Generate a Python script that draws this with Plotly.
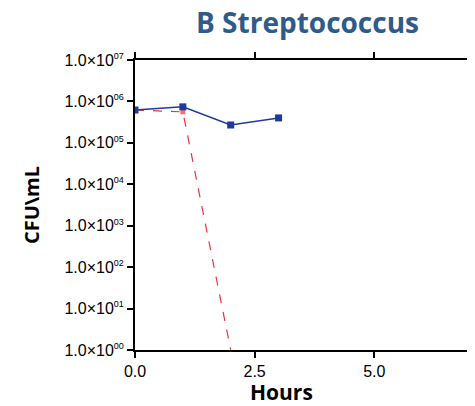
import plotly.graph_objects as go

hours = [0, 1, 2, 3]
blue_cfu = [6.2e5, 7.4e5, 2.7e5, 4.0e5]
red_hours = [0, 1, 2]
red_cfu = [6.2e5, 5.6e5, 1.0]
ytick_vals = [1e0, 1e1, 1e2, 1e3, 1e4, 1e5, 1e6, 1e7]
ytick_exponents = ["00", "01", "02", "03", "04", "05", "06", "07"]
xtick_vals = [0, 2.5, 5.0]
xtick_text = ["0.0", "2.5", "5.0"]

ytick_text = ["1.0×10<sup><span style='font-size:9px'>%s</span></sup>" % e for e in ytick_exponents]
tick_family = "Liberation Sans, Arial"

# the page body has an 8px margin, so margins are shifted by 8px to compensate
fig = go.Figure()
fig.add_trace(go.Scatter(x=red_hours, y=red_cfu, mode="lines+markers",
                         line=dict(color="#e8363a", width=1.2, dash="dash"),
                         marker=dict(symbol="square", size=[6, 6, 0], color="#e8363a")))
fig.add_trace(go.Scatter(x=hours, y=blue_cfu, mode="lines+markers",
                         line=dict(color="#1f3a9a", width=1.5),
                         marker=dict(symbol="square", size=7, color="#1f3a9a")))

fig.update_layout(
    width=475, height=406,
    margin=dict(l=127, r=13, t=52, b=64, autoexpand=False),
    paper_bgcolor="white", plot_bgcolor="white",
    showlegend=False,
    title=dict(text="<b>B Streptococcus</b>", x=299.5 / 475, xanchor="center", y=1 - 15 / 406, yanchor="middle",
               font=dict(family="Open Sans", size=28, color="#2f5b8a")),
    font=dict(family="Liberation Sans", color="black"),
    annotations=[
        dict(text="<b>Hours</b>", xref="paper", yref="paper", x=(273 - 127) / 335, y=-(384 - 342) / 290,
             xanchor="center", yanchor="middle", showarrow=False,
             font=dict(family="Open Sans", size=21, color="black")),
        dict(text="<b>CFU\\mL</b>", xref="paper", yref="paper", x=-(127 - 23) / 335, y=0.5,
             xanchor="center", yanchor="middle", showarrow=False, textangle=-90,
             font=dict(family="Open Sans", size=20, color="black")),
    ],
)
fig.update_xaxes(range=[0, 7], tickvals=xtick_vals, ticktext=xtick_text, automargin=False,
                 showline=True, linecolor="black", linewidth=2, mirror="ticks",
                 ticks="outside", ticklen=6, tickwidth=2, tickcolor="black",
                 showgrid=False, zeroline=False, tickfont=dict(family=tick_family, size=16))
fig.update_yaxes(type="log", range=[0, 7], tickvals=ytick_vals, ticktext=ytick_text, automargin=False,
                 showline=True, linecolor="black", linewidth=2, mirror="ticks",
                 ticks="outside", ticklen=6, tickwidth=2, tickcolor="black",
                 showgrid=False, zeroline=False, tickfont=dict(family=tick_family, size=16))

fig.write_html("out.html")
